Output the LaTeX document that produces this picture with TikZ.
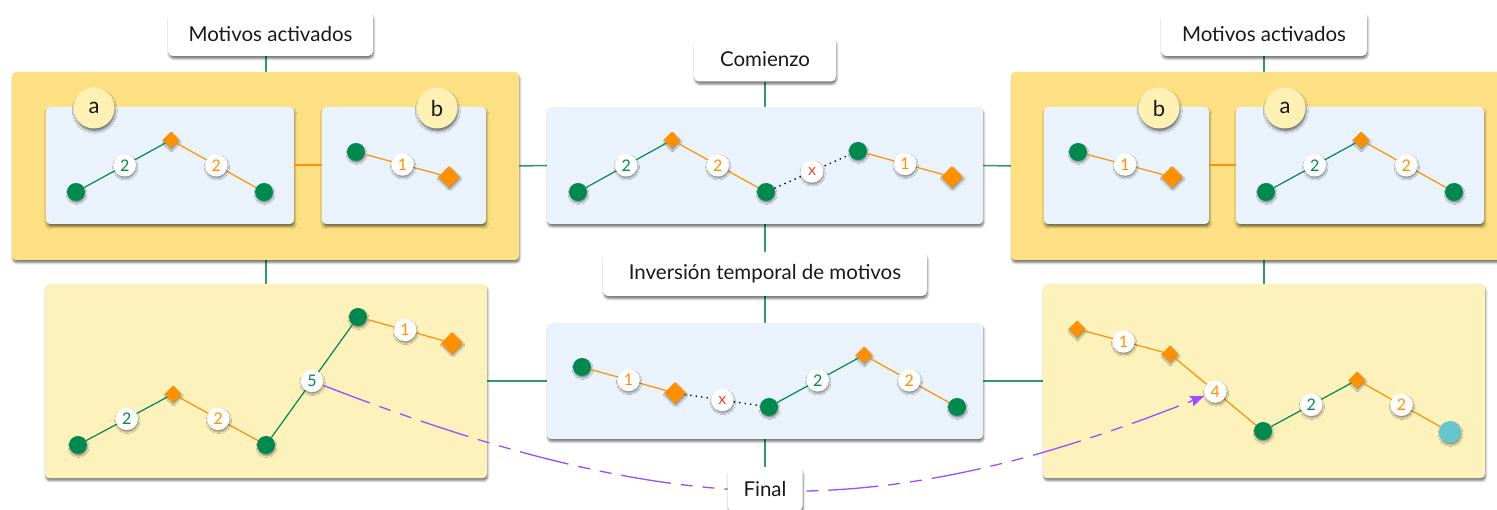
\documentclass[tikz,border=0pt]{standalone}
\usepackage{fontspec}
\setmainfont{Lato}
\usetikzlibrary{shapes.geometric,shadows.blur,arrows.meta,backgrounds}
\pgfdeclarelayer{front}
\pgfsetlayers{background,main,front}

\definecolor{motifgreen}{HTML}{00894F}
\definecolor{motiforange}{HTML}{FF9100}
\definecolor{deepyellow}{HTML}{FDE083}
\definecolor{paleyellow}{HTML}{FEF2BC}
\definecolor{tagyellow}{HTML}{FFF1B3}
\definecolor{paleblue}{HTML}{EAF3FC}
\definecolor{linkgreen}{HTML}{2E9A6A}
\definecolor{jumppurple}{HTML}{9B4DFF}
\definecolor{endcyan}{HTML}{66C6CE}
\definecolor{gapred}{HTML}{F2462E}

\tikzset{
  shd/.style={blur shadow={shadow xshift=0.8pt, shadow yshift=-2.8pt,
      shadow blur radius=2pt, shadow opacity=50}},
  smallshd/.style={blur shadow={shadow xshift=0.6pt, shadow yshift=-2pt,
      shadow blur radius=1.5pt, shadow opacity=40}},
  panelbox/.style={rectangle, rounded corners=4pt, inner sep=0pt, shd},
  outerbox/.style={panelbox, fill=deepyellow, minimum width=507pt, minimum height=188pt},
  bluebox/.style={panelbox, fill=paleblue, minimum height=117pt},
  creambox/.style={panelbox, fill=paleyellow, minimum width=442pt, minimum height=194pt},
  tagbox/.style={rectangle, rounded corners=5pt, fill=white, shd, inner xsep=4pt,
      minimum height=44pt, text=black!90, font=\fontsize{20.5}{24}\selectfont},
  lettertag/.style={circle, fill=tagyellow, minimum size=41pt, inner sep=0pt, shd,
      text=black!90, font=\fontsize{22}{22}\selectfont},
  gdot/.style={circle, fill=motifgreen, minimum size=18pt, inner sep=0pt, smallshd},
  cdot/.style={circle, fill=endcyan, minimum size=22pt, inner sep=0pt, smallshd},
  sdia/.style={diamond, fill=motiforange, minimum width=17pt, minimum height=17pt,
      inner sep=0pt, smallshd},
  bdia/.style={diamond, fill=motiforange, minimum width=22pt, minimum height=22pt,
      inner sep=0pt, smallshd},
  num/.style={circle, fill=white, minimum size=22.5pt, inner sep=0pt, smallshd,
      font=\fontsize{16}{16}\selectfont},
  gnum/.style={num, text=motifgreen},
  onum/.style={num, text=motiforange},
  xnum/.style={num, text=gapred},
  gedge/.style={draw=motifgreen, line width=1.2pt},
  oedge/.style={draw=motiforange, line width=1.2pt},
  gapedge/.style={draw=black, line width=1.4pt, dash pattern=on 1.3pt off 4.2pt},
  link/.style={draw=linkgreen, line width=1.5pt},
  olink/.style={draw=motiforange, line width=2pt},
  jump/.style={draw=jumppurple, line width=1.3pt,
      dash pattern=on 50pt off 10pt on 12pt off 10pt on 12pt off 10pt,
      -{Stealth[length=14pt, width=11pt, inset=2pt]}},
}

\begin{document}
\begin{tikzpicture}[x=1pt, y=-1pt]
\useasboundingbox (0,0) rectangle (1497,510);

% ---------- top row: left group ----------
\node[outerbox] (bigL) at (265.5,166) {};
\node[bluebox, minimum width=248pt] (paL) at (170,165.5) {};
\node[bluebox, minimum width=164pt] (pbL) at (404,165.5) {};
\draw[olink] (paL.east) -- (pbL.west);
\node[lettertag] (tagaL) at (94,108) {a};
\node[lettertag] (tagbL) at (437,108) {b};

\node[gdot] (aL1) at (76,192) {};
\node[sdia] (aL2) at (171,140) {};
\node[gdot] (aL3) at (264,192) {};
\draw[gedge] (aL1) -- node[gnum] (aLn1) {2} (aL2);
\draw[oedge] (aL2) -- node[onum] (aLn2) {2} (aL3);

\node[gdot] (bL1) at (356,152) {};
\node[bdia] (bL2) at (449,177) {};
\draw[oedge] (bL1) -- node[onum] (bLn1) {1} (bL2);

\node[tagbox, minimum width=205pt] (tL) at (270.5,34) {Motivos activados};

% ---------- top row: centre ----------
\node[bluebox, minimum width=436pt] (pC1) at (765,165.5) {};
\node[gdot] (c1) at (578,192) {};
\node[sdia] (c2) at (672,140) {};
\node[gdot] (c3) at (766,192) {};
\node[gdot] (c4) at (858,151) {};
\node[bdia] (c5) at (952,177) {};
\draw[gedge] (c1) -- node[gnum] (cn1) {2} (c2);
\draw[oedge] (c2) -- node[onum] (cn2) {2} (c3);
\draw[gapedge] (c3) -- node[xnum] (cnx) {x} (c4);
\draw[oedge] (c4) -- node[onum] (cn3) {1} (c5);

\node[tagbox, minimum width=142pt] (com) at (765,59.5) {Comienzo};

% ---------- top row: right group ----------
\node[outerbox] (bigR) at (1264.5,166) {};
\node[bluebox, minimum width=165pt] (pbR) at (1126.5,165.5) {};
\node[bluebox, minimum width=248pt] (paR) at (1360,165.5) {};
\draw[olink] (pbR.east) -- (paR.west);
\node[lettertag] (tagbR) at (1159,108) {b};
\node[lettertag] (tagaR) at (1285,108) {a};

\node[gdot] (bR1) at (1078,152) {};
\node[bdia] (bR2) at (1172,177) {};
\draw[oedge] (bR1) -- node[onum] (bRn1) {1} (bR2);

\node[gdot] (aR1) at (1266,192) {};
\node[sdia] (aR2) at (1361,140) {};
\node[gdot] (aR3) at (1454,192) {};
\draw[gedge] (aR1) -- node[gnum] (aRn1) {2} (aR2);
\draw[oedge] (aR2) -- node[onum] (aRn2) {2} (aR3);

\node[tagbox, minimum width=206pt] (tR) at (1264,34) {Motivos activados};

% ---------- bottom row: left ----------
\node[creambox] (pBL) at (266,381) {};
\node[gdot] (e1) at (78,445) {};
\node[sdia] (e2) at (173,394) {};
\node[gdot] (e3) at (266,445) {};
\node[gdot] (e4) at (358,317) {};
\node[bdia] (e5) at (452,343) {};
\draw[gedge] (e1) -- node[gnum] (en1) {2} (e2);
\draw[oedge] (e2) -- node[onum] (en2) {2} (e3);
\draw[gedge] (e3) -- node[gnum] (en5) {5} (e4);
\draw[oedge] (e4) -- node[onum] (en3) {1} (e5);

% ---------- bottom row: centre ----------
\node[tagbox, minimum width=324pt] (inv) at (765,274) {Inversión temporal de motivos};
\node[bluebox, minimum width=436pt, minimum height=116pt] (pC2) at (765,381) {};
\node[gdot] (f1) at (582,367) {};
\node[bdia] (f2) at (675,393) {};
\node[gdot] (f3) at (769,407) {};
\node[sdia] (f4) at (864,355) {};
\node[gdot] (f5) at (957,407) {};
\draw[oedge] (f1) -- node[onum] (fn1) {1} (f2);
\draw[gapedge] (f2) -- node[xnum] (fnx) {x} (f3);
\draw[gedge] (f3) -- node[gnum] (fn2) {2} (f4);
\draw[oedge] (f4) -- node[onum] (fn3) {2} (f5);

% ---------- bottom row: right ----------
\node[creambox] (pBR) at (1264,381) {};
\node[sdia] (h1) at (1077,329) {};
\node[sdia] (h2) at (1170,354) {};
\node[gdot] (h3) at (1263,431) {};
\node[sdia] (h4) at (1357,380) {};
\node[cdot] (h5) at (1450,432) {};
\draw[oedge] (h1) -- node[onum] (hn1) {1} (h2);
\draw[oedge] (h2) -- node[onum] (hn4) {4} (h3);
\draw[gedge] (h3) -- node[gnum] (hn2) {2} (h4);
\draw[oedge] (h4) -- node[onum] (hn3) {2} (h5);

% ---------- jump between the two bottom sequences ----------
\draw[jump] (en5) .. controls (681,524) and (881,524) .. (hn4);

\begin{pgfonlayer}{front}
\node[tagbox, minimum width=75pt] (fin) at (765,489) {Final};
\end{pgfonlayer}

% ---------- green connectors behind everything ----------
\begin{pgfonlayer}{background}
\draw[link] (tL.south -| pBL.north) -- (pBL.north);
\draw[link] (tR.south -| pBR.north) -- (pBR.north);
\draw[link] (com) -- (pC1);
\draw[link] (pC1) -- (inv);
\draw[link] (inv) -- (pC2);
\draw[link] (pC2) -- (fin);
\draw[link] (bigL.east) -- (pC1.west);
\draw[link] (pC1.east) -- (bigR.west);
\draw[link] (pBL.east) -- (pC2.west);
\draw[link] (pC2.east) -- (pBR.west);
\end{pgfonlayer}
\end{tikzpicture}
\end{document}
